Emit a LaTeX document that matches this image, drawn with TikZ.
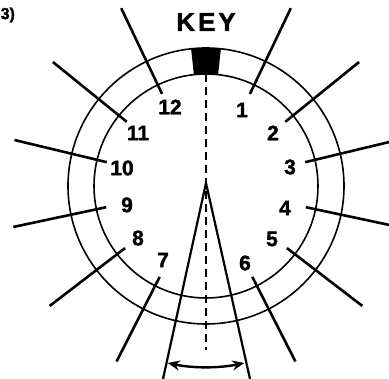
\documentclass[tikz,border=0pt]{standalone}
\usepackage{fontspec}
\setmainfont{Liberation Sans}
\newfontfamily\heavyfont[FakeBold=1.6]{Liberation Sans Bold}
\usetikzlibrary{arrows.meta,calc}
\begin{document}
\begin{tikzpicture}[x=1pt,y=1pt,
  ring/.style={line width=1.6pt},
  tick/.style={line width=2.6pt},
  num/.style={font=\heavyfont\fontsize{21}{21}\selectfont, inner sep=0pt},
  keytext/.style={font=\heavyfont\fontsize{26}{26}\selectfont, inner sep=0pt},
  guide/.style={line width=2.2pt},
  dashline/.style={line width=1.9pt, dash pattern=on 8pt off 5pt},
  span/.style={line width=2.4pt, {Stealth[length=12pt,width=10pt]}-{Stealth[length=12pt,width=10pt]}}]
\useasboundingbox (0,0) rectangle (389,379);
\coordinate (C) at (206,193);
% rings
\draw[ring] (C) circle (138);
\draw[ring] (C) circle (112);
% key block
\fill ($(C)+(83.8:112)$) arc (83.8:96.2:112) -- ($(C)+(96.2:138)$) arc (96.2:83.8:138) -- cycle;
\node[keytext] (key) at (206,357) {K\kern3pt E\kern3pt Y};
% ticks
\foreach \a/\n in {115.5/12, 141/11, 166.5/10, 192/9, 217.5/8, 243/7,
  64.5/1, 39/2, 13.5/3, -12/4, -37.5/5, -63/6}{
  \coordinate (ti\n) at ($(C)+(\a:102)$);
  \coordinate (to\n) at ($(C)+(\a:197)$);
  \draw[tick] (ti\n) -- (to\n);
}
% numbers
\node[num] (n12) at (170,272) {12};
\node[num] (n11) at (138,246) {11};
\node[num] (n10) at (122,211) {10};
\node[num] (n9) at (127,174) {9};
\node[num] (n8) at (138,141) {8};
\node[num] (n7) at (163,119) {7};
\node[num] (n1) at (242,269) {1};
\node[num] (n2) at (273,246) {2};
\node[num] (n3) at (290,212) {3};
\node[num] (n4) at (285,171) {4};
\node[num] (n5) at (272,140) {5};
\node[num] (n6) at (245,116) {6};
% dashed center line
\coordinate (dtop) at ($(C)+(0,112)$);
\coordinate (dbot) at (206,29);
\draw[dashline] (dtop) -- (dbot);
% guide lines from apex
\coordinate (apex) at (206,196);
\coordinate (gl) at (163,0);
\coordinate (gr) at (250,0);
\draw[guide] (gl) -- (apex) -- (gr);
% span arrow
\draw[span] ($(apex)+(258:184)$) arc (258:282:184);
% figure label
\node[font=\heavyfont\fontsize{16}{16}\selectfont, anchor=west, inner sep=0pt] (fig) at (0.5,364) {3)};
\end{tikzpicture}
\end{document}
